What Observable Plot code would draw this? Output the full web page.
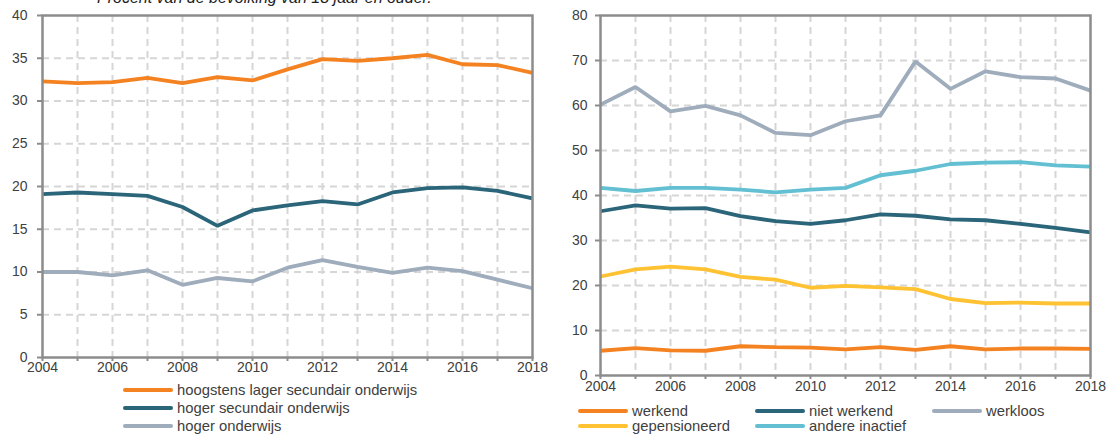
<!DOCTYPE html>
<html>
<head>
<meta charset="utf-8">
<script src="https://cdn.jsdelivr.net/npm/d3@7"></script>
<script src="https://cdn.jsdelivr.net/npm/@observablehq/plot@0.6"></script>
<style>
  html, body { margin: 0; padding: 0; background: white; }
  #wrap { position: relative; width: 1110px; height: 436px; overflow: hidden; background: white;
          font-family: "Liberation Sans", Arial, sans-serif; color: #404040; }
  .chart { position: absolute; top: 0; }
  .title { position: absolute; left: 97px; top: -10px; font-size: 16px; line-height: 16px; font-style: italic; color: #222; white-space: nowrap; }
  .leg { position: absolute; font-size: 14.8px; white-space: nowrap; color: #404040; }
  .item { display: flex; align-items: center; }
  .sw { display: inline-block; width: 50px; height: 4px; border-radius: 2px; margin-right: 4px; }
</style>
</head>
<body>
<div id="wrap">
  <div class="title" id="title"></div>
</div>
<script>
// ---- data ----
const years = [2004, 2005, 2006, 2007, 2008, 2009, 2010, 2011, 2012, 2013, 2014, 2015, 2016, 2017, 2018];
const yearLabels = [2004, 2006, 2008, 2010, 2012, 2014, 2016, 2018];
const titleText = "Procent van de bevolking van 18 jaar en ouder.";

// left chart: by education level
const leftNames = ["hoogstens lager secundair onderwijs", "hoger secundair onderwijs", "hoger onderwijs"];
const leftColors = ["#f58220", "#2b6579", "#9eacbb"];
const hoogstensLager = [32.3, 32.1, 32.2, 32.7, 32.1, 32.8, 32.4, 33.7, 34.9, 34.7, 35.0, 35.4, 34.3, 34.2, 33.3];
const hogerSecundair = [19.1, 19.3, 19.1, 18.9, 17.6, 15.4, 17.2, 17.8, 18.3, 17.9, 19.3, 19.8, 19.9, 19.5, 18.6];
const hogerOnderwijs = [10.0, 10.0, 9.6, 10.2, 8.5, 9.3, 8.9, 10.5, 11.4, 10.6, 9.9, 10.5, 10.1, 9.1, 8.1];
const leftTicks = [0, 5, 10, 15, 20, 25, 30, 35, 40];

// right chart: by activity status
const rightNames = ["werkend", "niet werkend", "werkloos", "gepensioneerd", "andere inactief"];
const rightColors = ["#f58220", "#2b6579", "#9eacbb", "#fec232", "#62c0d2"];
const werkend = [5.5, 6.1, 5.6, 5.5, 6.5, 6.3, 6.2, 5.8, 6.3, 5.7, 6.5, 5.8, 6.0, 6.0, 5.9];
const nietWerkend = [36.5, 37.8, 37.1, 37.2, 35.4, 34.3, 33.7, 34.5, 35.8, 35.5, 34.7, 34.5, 33.7, 32.8, 31.8];
const werkloos = [60.2, 64.1, 58.7, 59.9, 57.8, 53.9, 53.4, 56.5, 57.8, 69.8, 63.7, 67.6, 66.3, 66.0, 63.3];
const gepensioneerd = [22.0, 23.6, 24.2, 23.6, 21.9, 21.3, 19.5, 19.9, 19.6, 19.2, 17.0, 16.1, 16.2, 16.0, 16.0];
const andereInactief = [41.7, 41.0, 41.7, 41.7, 41.3, 40.7, 41.3, 41.7, 44.5, 45.5, 47.0, 47.3, 47.4, 46.7, 46.4];
const rightTicks = [0, 10, 20, 30, 40, 50, 60, 70, 80];

const leftSeries = [hoogstensLager, hogerSecundair, hogerOnderwijs];
const rightSeries = [werkend, nietWerkend, werkloos, gepensioneerd, andereInactief];

// ---- drawing ----
const wrap = document.getElementById("wrap");
document.getElementById("title").textContent = titleText;

function makeChart(names, colors, series, ticks, opts) {
  const data = [];
  names.forEach((n, k) => series[k].forEach((v, i) => data.push({year: years[i], value: v, key: n})));
  const yMax = ticks[ticks.length - 1];
  return Plot.plot({
    width: opts.width, height: opts.height,
    marginLeft: opts.ml, marginRight: opts.mr, marginTop: opts.mt, marginBottom: opts.mb,
    style: {fontFamily: "'Liberation Sans', Arial, sans-serif", fontSize: "14px", color: "#404040", background: "transparent", overflow: "visible"},
    x: {domain: [years[0], years[years.length - 1]], label: null},
    y: {domain: [0, yMax], label: null},
    color: {domain: names, range: colors},
    marks: [
      Plot.ruleX(years.slice(1, -1), {stroke: "#d6d6d6", strokeWidth: 2, strokeDasharray: "7,5"}),
      Plot.ruleY(ticks.slice(1, -1), {stroke: "#d6d6d6", strokeWidth: 2, strokeDasharray: "7,5"}),
      Plot.axisX({ticks: years, tickSize: 4, tickFormat: () => "", stroke: "#8c8c8c", strokeWidth: 2, label: null}),
      Plot.axisX({ticks: yearLabels, tickSize: 0, tickPadding: opts.xPad, tickFormat: d => String(d), fill: "#404040", label: null}),
      Plot.axisY({ticks: ticks, tickSize: 5, tickPadding: opts.yPad, stroke: "#8c8c8c", strokeWidth: 2, fill: "#404040", label: null}),
      Plot.lineY(data, {x: "year", y: "value", stroke: "key", strokeWidth: 3.8, strokeLinejoin: "miter", strokeLinecap: "butt"}),
      Plot.frame({stroke: "#8c8c8c", strokeWidth: 2.5})
    ]
  });
}

const left = makeChart(leftNames, leftColors, leftSeries, leftTicks,
  {width: 555, height: 380, ml: 42, mr: 23, mt: 15, mb: 23, xPad: 5, yPad: 10});
left.classList.add("chart");
left.style.left = "0px";
wrap.appendChild(left);

const right = makeChart(rightNames, rightColors, rightSeries, rightTicks,
  {width: 555, height: 400, ml: 45, mr: 20, mt: 15, mb: 25, xPad: 6, yPad: 8});
right.classList.add("chart");
right.style.left = "555px";
wrap.appendChild(right);

// legends
function legendItem(name, color, x, y) {
  const d = document.createElement("div");
  d.className = "leg item";
  d.style.left = x + "px";
  d.style.top = (y - 9) + "px";
  d.style.height = "18px";
  const s = document.createElement("span");
  s.className = "sw";
  s.style.background = color;
  const t = document.createElement("span");
  t.textContent = name;
  d.appendChild(s); d.appendChild(t);
  wrap.appendChild(d);
}
leftNames.forEach((n, i) => legendItem(n, leftColors[i], 123, 390 + i * 18));
const rCols = [578, 755, 932];
rightNames.forEach((n, i) => legendItem(n, rightColors[i], rCols[i % 3], 411 + Math.floor(i / 3) * 15));
</script>
</body>
</html>
